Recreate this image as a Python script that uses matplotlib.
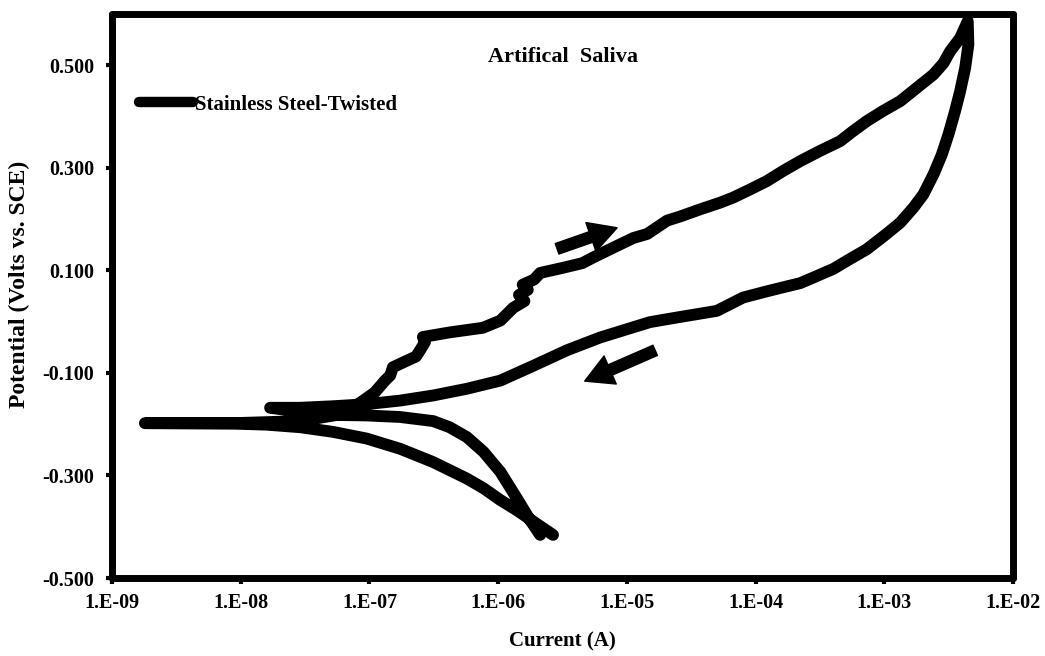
import numpy as np
import matplotlib.pyplot as plt

# cyclic polarisation scan
fwd_cath_i = [2.67e-6, 1.88e-6, 1.40e-6, 1.04e-6, 7.7e-7, 5.7e-7, 3.13e-7, 1.73e-7, 9.5e-8, 5.2e-8,
              2.9e-8, 1.59e-8, 8.8e-9, 1.8e-9]
fwd_cath_v = [-0.416, -0.390, -0.368, -0.348, -0.325, -0.306, -0.274, -0.248, -0.228, -0.215,
              -0.206, -0.201, -0.199, -0.198]

fwd_anod_i = [8.8e-9, 2.9e-8, 5.9e-8, 8.5e-8, 1.1e-7, 1.32e-7, 1.45e-7, 1.52e-7, 1.96e-7, 2.3e-7, 2.47e-7,
              2.7e-7, 2.6e-7, 4.2e-7, 7.6e-7, 1.04e-6, 1.31e-6, 1.6e-6, 1.45e-6, 1.7e-6, 1.55e-6, 1.9e-6,
              2.12e-6, 3.19e-6, 4.5e-6, 5.46e-6, 7.8e-6, 1.12e-5, 1.44e-5, 2.05e-5, 2.59e-5, 3.71e-5,
              5.3e-5, 6.7e-5, 9.1e-5, 1.22e-4, 1.64e-4, 2.22e-4, 3.17e-4, 4.54e-4, 5.75e-4, 7.3e-4,
              9.8e-4, 1.33e-3, 1.79e-3, 2.41e-3, 2.88e-3, 3.24e-3, 3.88e-3, 4.45e-3]
fwd_anod_v = [-0.198, -0.194, -0.181, -0.158, -0.138, -0.115, -0.105, -0.089, -0.076, -0.068, -0.056,
              -0.040, -0.030, -0.021, -0.012, 0.002, 0.027, 0.040, 0.052, 0.062, 0.072, 0.082,
              0.095, 0.105, 0.114, 0.125, 0.144, 0.163, 0.171, 0.197, 0.205, 0.219,
              0.232, 0.242, 0.258, 0.274, 0.294, 0.313, 0.333, 0.352, 0.372, 0.391,
              0.411, 0.430, 0.456, 0.482, 0.504, 0.527, 0.553, 0.586]

rev_anod_i = [4.5e-3, 4.25e-3, 3.88e-3, 3.55e-3, 3.15e-3, 2.80e-3, 2.41e-3, 2.01e-3, 1.68e-3, 1.33e-3,
              1.04e-3, 7.3e-4, 5.4e-4, 4.03e-4, 2.81e-4, 2.22e-4, 1.64e-4, 1.22e-4, 8.0e-5, 5.0e-5,
              2.44e-5, 1.51e-5, 1.12e-5, 6.19e-6, 3.41e-6, 1.88e-6, 1.04e-6, 5.7e-7, 3.13e-7, 1.73e-7,
              9.5e-8, 5.2e-8, 2.9e-8, 1.69e-8]
rev_anod_v = [0.540, 0.495, 0.449, 0.411, 0.365, 0.326, 0.287, 0.248, 0.222, 0.193,
              0.171, 0.141, 0.122, 0.103, 0.086, 0.075, 0.067, 0.059, 0.047, 0.021,
              0.008, -0.001, -0.011, -0.031, -0.056, -0.086, -0.115, -0.131, -0.144, -0.154,
              -0.161, -0.165, -0.168, -0.168]

rev_cath_i = [2.9e-8, 5.2e-8, 9.5e-8, 1.73e-7, 3.13e-7, 4.2e-7, 5.7e-7, 7.7e-7, 1.04e-6, 1.40e-6,
              1.77e-6, 2.12e-6]
rev_cath_v = [-0.176, -0.182, -0.183, -0.186, -0.194, -0.206, -0.225, -0.254, -0.293, -0.345,
              -0.387, -0.416]

current = np.concatenate([fwd_cath_i, fwd_anod_i, rev_anod_i, rev_cath_i])
potential = np.concatenate([fwd_cath_v, fwd_anod_v, rev_anod_v, rev_cath_v])

x_ticks = [1e-9, 1e-8, 1e-7, 1e-6, 1e-5, 1e-4, 1e-3, 1e-2]
x_labels = ['1.E-09', '1.E-08', '1.E-07', '1.E-06', '1.E-05', '1.E-04', '1.E-03', '1.E-02']
y_ticks = [-0.5, -0.3, -0.1, 0.1, 0.3, 0.5]

# scan direction arrows (tail, tip)
arrow_up = [(2.87e-6, 0.142), (8.4e-6, 0.183)]
arrow_down = [(1.66e-5, -0.056), (4.7e-6, -0.116)]

plt.rcParams['font.family'] = ['Liberation Serif', 'DejaVu Serif']
plt.rcParams['font.weight'] = 'bold'

fig = plt.figure(figsize=(10.45, 6.56), dpi=100)
ax = fig.add_axes([0.1072, 0.1189, 0.8622, 0.8598])

ax.plot(current, potential, color='black', linewidth=8.5,
        solid_capstyle='round', solid_joinstyle='round',
        label='Stainless Steel-Twisted')

for tail, tip in [arrow_up, arrow_down]:
    ax.annotate('', xy=tip, xytext=tail,
                arrowprops=dict(width=8, headwidth=22, headlength=20,
                                facecolor='black', edgecolor='black', shrink=0))

ax.set_xscale('log')
ax.set_xlim(1e-9, 1e-2)
ax.set_ylim(-0.5, 0.6)
ax.set_xticks(x_ticks)
ax.set_xticklabels(x_labels)
ax.minorticks_off()
ax.set_yticks(y_ticks)
ax.set_yticklabels(['%.3f' % v for v in y_ticks])

ax.tick_params(axis='both', direction='out', length=4, width=3, labelsize=14.5)
ax.tick_params(axis='x', pad=7)
ax.tick_params(axis='y', pad=9)
for s in ax.spines.values():
    s.set_linewidth(5)
    s.set_capstyle('round')

ax.set_xlabel('Current (A)', fontsize=15, fontweight='bold')
ax.set_ylabel('Potential (Volts vs. SCE)', fontsize=17, fontweight='bold')
ax.xaxis.set_label_coords(0.5, -0.094)
ax.yaxis.set_label_coords(-0.091, 0.52)

ax.text(0.5, 0.924, 'Artifical  Saliva', transform=ax.transAxes,
        ha='center', va='center', fontsize=16, fontweight='bold')

leg = ax.legend(loc='center left', bbox_to_anchor=(0.03, 0.839), frameon=False,
                fontsize=15, handlelength=2.6, handletextpad=0.1,
                borderpad=0, borderaxespad=0)
for ln in leg.get_lines():
    ln.set_linewidth(7.5)

fig.savefig('out.png', dpi=100)
